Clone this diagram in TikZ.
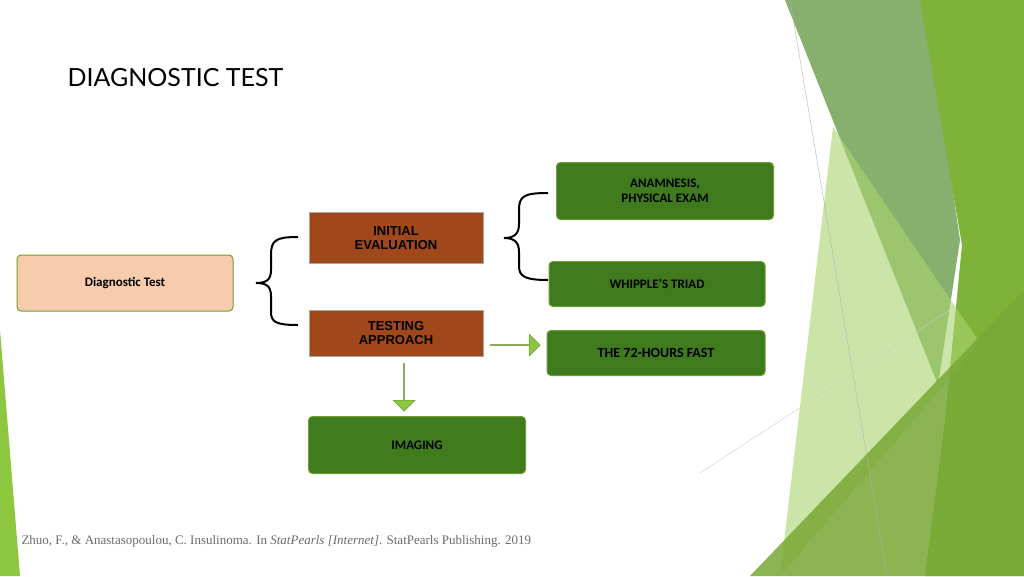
\documentclass[tikz,border=0pt]{standalone}
\usepackage{fontspec}
\setmainfont{Liberation Serif}
\newfontfamily\carl{Carlito}
\newfontfamily\lato{Lato}
\newfontfamily\arl{Liberation Sans}
\usetikzlibrary{shapes.arrows}
\definecolor{peach}{HTML}{F8CBAD}
\definecolor{brn}{HTML}{A0481A}
\definecolor{dgr}{HTML}{3F7A1C}
\definecolor{lgr}{HTML}{8DC63F}
\definecolor{mgr}{HTML}{4F8A2B}
\tikzset{
 bx/.style={draw=lgr!80!black,line width=1pt,rounded corners=4pt,minimum height=#1,inner sep=2pt,align=center},
 gbox/.style={bx=#1,fill=dgr,text=black,font=\carl\bfseries\fontsize{13}{15}\selectfont},
 bbox/.style={bx=#1,fill=brn,draw=gray!70,rounded corners=0pt,text=black,font=\arl\bfseries\fontsize{13}{14}\selectfont},
 brace/.style={draw=black,line width=2pt},
 garrow/.style={single arrow,fill=lgr,draw=lgr!70!black,single arrow head extend=5pt,minimum height=#1,minimum width=22pt,inner sep=0pt}
}
\begin{document}
\begin{tikzpicture}[x=1pt,y=-1pt]
\useasboundingbox (0,0) rectangle (1024,576);
\fill[white] (0,0) rectangle (1024,576);
% decoration
\fill[color=lgr] (0,330) -- (20,576) -- (0,576) -- cycle;
\fill[color=mgr!80!white,opacity=0.85] (785,0) -- (925,0) -- (960,240) -- (938,385) -- cycle;
\fill[color=lgr!90!black] (920,0) -- (1024,0) -- (1024,576) -- (925,576) -- (945,420) -- (962,245) -- cycle;
\fill[color=lgr!75!white,opacity=0.6] (833,127) -- (980,343) -- (780,576) -- cycle;
\fill[color=lgr!85!black,opacity=0.85] (750,576) -- (1024,290) -- (1024,576) -- cycle;
\draw[gray!60,line width=0.4pt] (790,0) -- (887,576);
\draw[gray!40,line width=0.4pt] (700,473) -- (950,310);
% title
\node[anchor=west,font=\lato\fontsize{25}{28}\selectfont] (title) at (64,78) {DIAGNOSTIC TEST};
% nodes
\node[bx=56pt,fill=peach,minimum width=216pt,font=\carl\bfseries\fontsize{13}{15}\selectfont] (dt) at (125,283) {Diagnostic Test};
\node[bbox=51pt,minimum width=174pt] (ie) at (396,238) {INITIAL\\EVALUATION};
\node[bbox=46pt,minimum width=174pt] (ta) at (396,333) {TESTING\\APPROACH};
\node[gbox=57pt,minimum width=217pt] (an) at (665,191) {ANAMNESIS,\\PHYSICAL EXAM};
\node[gbox=45pt,minimum width=216pt] (wt) at (657,284) {WHIPPLE’S TRIAD};
\node[gbox=45pt,minimum width=218pt,font=\carl\bfseries\fontsize{14}{16}\selectfont] (hf) at (656,353) {THE 72-HOURS FAST};
\node[gbox=57pt,minimum width=217pt] (im) at (417,445) {IMAGING};
% braces
\coordinate (b1) at (256,283);
\draw[brace] (298,237) .. controls (276,237) and (271,240) .. (271,255) -- (271,270) .. controls (271,280) and (266,283) .. (b1) .. controls (266,283) and (271,286) .. (271,296) -- (271,312) .. controls (271,322) and (276,325) .. (298,325);
\coordinate (b2) at (504,238);
\draw[brace] (548,193) .. controls (524,193) and (519,196) .. (519,210) -- (519,224) .. controls (519,234) and (514,238) .. (b2) .. controls (514,238) and (519,242) .. (519,252) -- (519,266) .. controls (519,276) and (524,280) .. (548,280);
% arrows
\node[garrow=50pt] (ar) at (515,345) {};
\node[garrow=48pt,rotate=-90] (ad) at (404,387) {};
% citation
\node[anchor=west,text=gray!85!black,font=\fontsize{13}{15}\selectfont] (cite) at (18,541) {Zhuo, F., \& Anastasopoulou, C. Insulinoma. In \textit{StatPearls [Internet]}. StatPearls Publishing. 2019};
\end{tikzpicture}
\end{document}
